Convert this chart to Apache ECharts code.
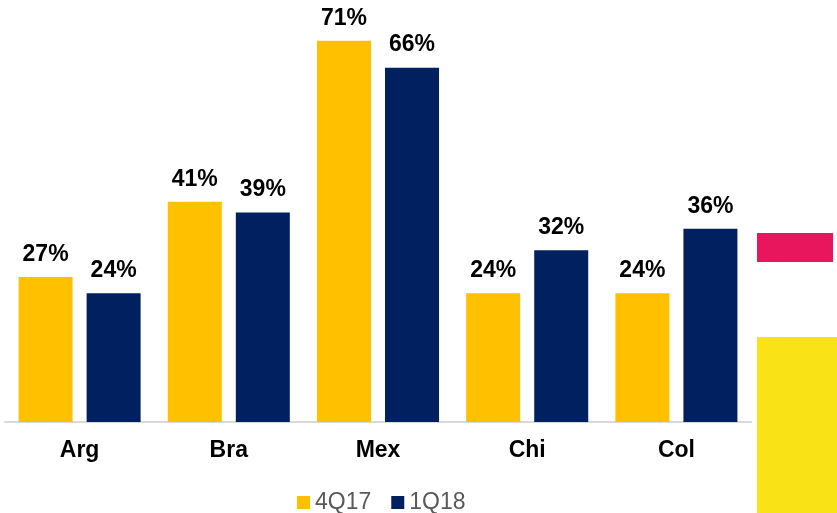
<!DOCTYPE html>
<html>
<head>
<meta charset="utf-8">
<script src="https://cdn.jsdelivr.net/npm/echarts@6/dist/echarts.min.js"></script>
<style>
  html, body { margin: 0; padding: 0; background: #fff; }
  #chart { width: 837px; height: 513px; }
</style>
</head>
<body>
<div id="chart"></div>
<script>
'use strict';

const categories = ['Arg', 'Bra', 'Mex', 'Chi', 'Col'];
const seriesNames = ['4Q17', '1Q18'];
const values4Q17 = [27, 41, 71, 24, 24];
const values1Q18 = [24, 39, 66, 32, 36];

const chart = echarts.init(document.getElementById('chart'));

const labelStyle = {
    show: true,
    position: 'top',
    distance: 11,
    formatter: '{c}%',
    fontFamily: 'Liberation Sans, Arial, sans-serif',
    fontWeight: 'bold',
    fontSize: 23,
    color: '#000',
};

chart.setOption({
    animation: false,
    color: ['#FFC000', '#002060'],
    grid: { left: 5, right: 86, top: 0, bottom: 91 },
    legend: {
        bottom: -6,
        left: 292,
        itemWidth: 13,
        itemHeight: 13,
        itemGap: 20,
        icon: 'rect',
        textStyle: {
            fontFamily: 'Liberation Sans, Arial, sans-serif',
            fontSize: 23,
            color: '#595959',
        },
        data: seriesNames,
    },
    xAxis: {
        type: 'category',
        data: categories,
        axisLine: { lineStyle: { color: '#d9d9d9', width: 2 } },
        axisTick: { show: false },
        axisLabel: {
            margin: 17,
            fontFamily: 'Liberation Sans, Arial, sans-serif',
            fontWeight: 'bold',
            fontSize: 23,
            color: '#000',
        },
    },
    yAxis: {
        type: 'value',
        min: 0,
        max: 78.6,
        show: false,
        splitLine: { show: false },
    },
    series: [
        {
            name: seriesNames[0],
            type: 'bar',
            data: values4Q17,
            barWidth: 54,
            barGap: '26%',
            label: labelStyle,
        },
        {
            name: seriesNames[1],
            type: 'bar',
            data: values1Q18,
            barWidth: 54,
            label: labelStyle,
        },
    ],
    graphic: [
        { type: 'rect', left: 757, top: 233, shape: { width: 76, height: 29 }, style: { fill: '#E8175D' } },
        { type: 'rect', left: 757, top: 337, shape: { width: 80, height: 176 }, style: { fill: '#F9E316' } },
    ],
});
</script>
</body>
</html>
